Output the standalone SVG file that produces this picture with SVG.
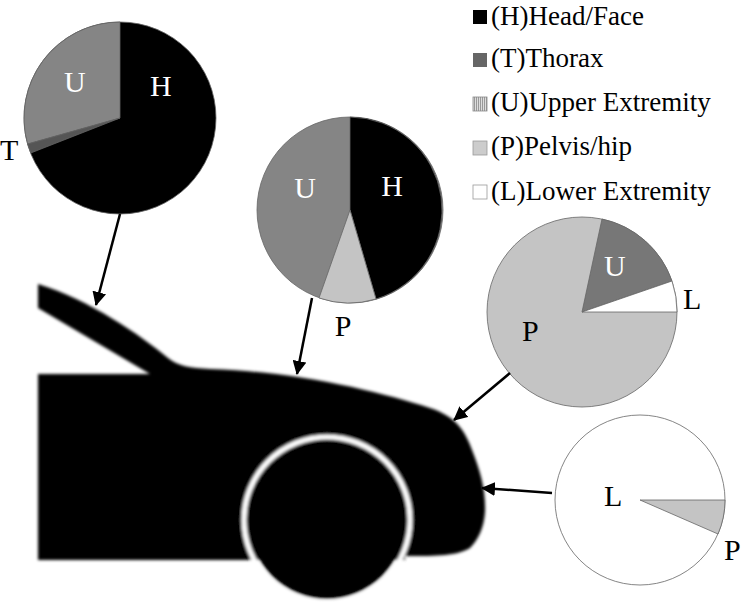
<svg xmlns="http://www.w3.org/2000/svg" width="747" height="614" viewBox="0 0 747 614">
<defs>
<style>
text{font-family:"Liberation Serif","Times New Roman","DejaVu Serif",serif;font-size:30px;fill:#000}
.lg{font-size:27px}
.lw{fill:#fff}
.conn line{stroke:#000;stroke-width:2.5}
.pie path,.pie circle{stroke:#666;stroke-width:0.8}
</style>
<marker id="ah" markerWidth="14" markerHeight="14" refX="13" refY="7" orient="auto" markerUnits="userSpaceOnUse" viewBox="0 0 14 14"><path d="M0,0L14,7L0,14z" fill="#000"/></marker>
<pattern id="hatch" width="2" height="2" patternUnits="userSpaceOnUse"><rect width="2" height="2" fill="#ddd"/><rect width="1" height="2" fill="#999"/></pattern>
<filter id="blur"><feGaussianBlur stdDeviation="1.5"/></filter>
</defs>
<rect width="747" height="614" fill="#fff"/>
<g id="car" filter="url(#blur)">
<path d="M38,284 C90,300 140,335 168,358 C178,366 190,368 210,369 C300,372 380,392 430,408 C455,416 465,430 472,450 C480,470 486,490 485,512 C484,528 478,540 470,548 C455,556 440,556 405,556 L405,560 L240,560 L38,560 L38,374 L150,374 L38,308 Z" fill="#000"/>
<circle cx="327" cy="520" r="83" fill="none" stroke="#fff" stroke-width="5"/>
<circle cx="327" cy="521" r="78" fill="#000"/>
</g>
<g id="pie-roof" class="pie">
<circle cx="120" cy="118" r="96" fill="#000"/>
<path d="M120,118 L120,22 A96,96 0 0,0 27.6,144 Z" fill="#858585"/>
<path d="M120,118 L30.7,153 L27.6,144 Z" fill="#555"/>
<text x="64" y="92" class="lw">U</text>
<text x="150" y="96" class="lw">H</text>
<text x="0" y="160">T</text>
</g>
<g id="pie-hood" class="pie">
<circle cx="350" cy="210" r="93" fill="#858585"/>
<path d="M350,210 L350,117 A93,93 0 0,1 376,299 Z" fill="#000"/>
<path d="M350,210 L376,299 A93,93 0 0,1 319,298 Z" fill="#c4c4c4"/>
<text x="305" y="198" class="lw" text-anchor="middle">U</text>
<text x="392" y="196" class="lw" text-anchor="middle">H</text>
<text x="343" y="336" text-anchor="middle">P</text>
</g>
<g id="pie-front" class="pie">
<circle cx="582" cy="312" r="95" fill="#c4c4c4"/>
<path d="M582,312 L602,219 A95,95 0 0,1 672,281 Z" fill="#777"/>
<path d="M582,312 L672,281 A95,95 0 0,1 677,312 Z" fill="#fff"/>
<text x="604" y="276" class="lw">U</text>
<text x="683" y="309">L</text>
<text x="522" y="341">P</text>
</g>
<g id="pie-bumper" class="pie">
<circle cx="640" cy="500" r="85" fill="#fff"/>
<path d="M640,500 L725,500 A85,85 0 0,1 718,534 Z" fill="#c4c4c4"/>
<text x="604" y="506">L</text>
<text x="724" y="560">P</text>
</g>
<g id="conn" class="conn">
<line x1="120" y1="214" x2="96" y2="305" marker-end="url(#ah)"/>
<line x1="312" y1="298" x2="297" y2="374" marker-end="url(#ah)"/>
<line x1="510" y1="373" x2="454" y2="420" marker-end="url(#ah)"/>
<line x1="552" y1="493" x2="482" y2="488" marker-end="url(#ah)"/>
</g>
<g id="legend">
<rect x="473" y="10" width="14" height="14" fill="#000"/>
<rect x="473" y="53" width="14" height="14" fill="#666"/>
<rect x="473" y="97" width="14" height="14" fill="url(#hatch)" stroke="#888" stroke-width="0.8"/>
<rect x="473" y="141" width="14" height="14" fill="#ccc" stroke="#999" stroke-width="0.8"/>
<rect x="473" y="185" width="14" height="14" fill="#fff" stroke="#999" stroke-width="0.8"/>
<text x="491" y="25" class="lg">(H)Head/Face</text>
<text x="491" y="67" class="lg">(T)Thorax</text>
<text x="491" y="111" class="lg">(U)Upper Extremity</text>
<text x="491" y="155" class="lg">(P)Pelvis/hip</text>
<text x="491" y="200" class="lg">(L)Lower Extremity</text>
</g>
</svg>
